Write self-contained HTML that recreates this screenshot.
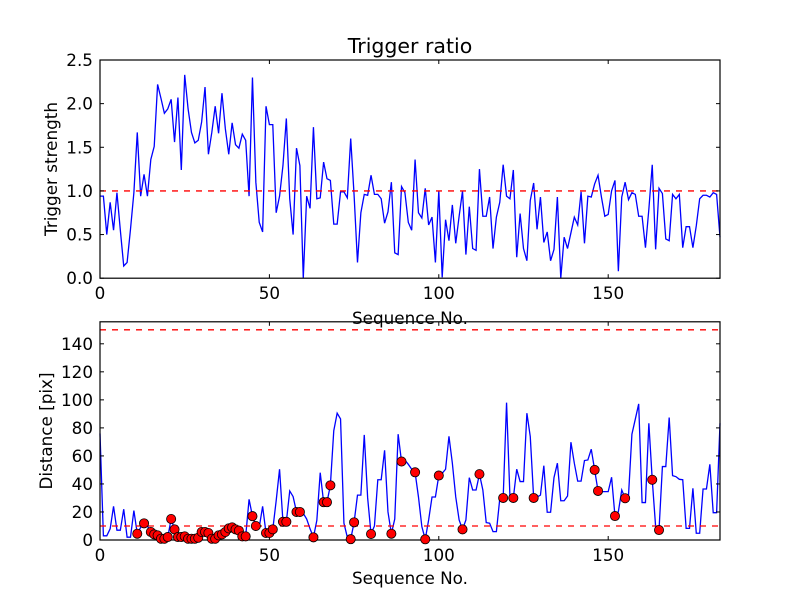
<!DOCTYPE html>
<html><head><meta charset="utf-8"><style>
html,body{margin:0;padding:0;background:#fff;}
svg text{font-family:"DejaVu Sans","Liberation Sans",sans-serif;fill:#000;}
</style></head><body>
<svg id="chart" width="800" height="600" viewBox="0 0 800 600" xmlns="http://www.w3.org/2000/svg">
<rect width="800" height="600" fill="#fff"/>
<text x="410" y="53" font-size="20.5" text-anchor="middle">Trigger ratio</text>
<g id="top"></g>
<g id="bot"></g>
<text x="410" y="324" font-size="16.8" text-anchor="middle">Sequence No.</text>
<text x="410" y="584" font-size="16.8" text-anchor="middle">Sequence No.</text>
<text transform="translate(57,169) rotate(-90)" font-size="16.8" text-anchor="middle">Trigger strength</text>
<text transform="translate(52,431) rotate(-90)" font-size="16.8" text-anchor="middle">Distance [pix]</text>
</svg>
<script>
const ratio = [0.94,0.94,0.5,0.87,0.55,0.98,0.55,0.14,0.18,0.56,0.98,1.67,0.94,1.19,0.94,1.36,1.51,2.22,2.06,1.89,1.94,2.05,1.56,2.07,1.24,2.33,1.94,1.67,1.55,1.58,1.79,2.19,1.42,1.67,1.97,1.66,2.12,1.71,1.42,1.78,1.53,1.49,1.65,1.58,0.94,2.30,
1.1,0.64,0.53,1.97,1.76,1.76,0.75,0.94,1.29,1.83,0.91,0.5,1.49,1.29,0,0.94,0.8,1.73,0.91,0.92,1.33,1.14,1.12,0.62,0.62,0.99,0.99,0.92,1.6,0.95,0.18,0.75,0.96,0.95,1.18,0.96,0.96,0.91,0.63,0.76,1.1,0.29,0.27,1.05,
0.98,0.64,0.55,1.36,0.75,0.69,1.03,0.61,0.70,0.18,1.0,0.01,0.67,0.43,0.84,0.40,0.71,1.0,0.27,0.82,0.34,0.32,1.25,0.71,0.71,0.93,0.34,0.7,0.87,1.3,0.94,0.91,1.24,0.24,0.74,0.34,0.2,0.89,1.09,0.56,0.93,0.41,0.53,0.2,0.33,0.93,0.0,0.47,
0.34,0.52,0.70,0.61,0.99,0.40,0.94,0.93,1.08,1.18,0.93,0.71,0.73,1.0,1.12,0.08,0.93,1.1,0.9,0.98,0.96,0.71,0.71,0.35,0.79,1.3,0.33,1.03,0.97,0.45,0.43,0.96,0.91,0.96,0.35,0.59,0.59,0.35,0.6,0.91,0.95,0.95,0.93,0.98,0.96,0.47];
const distance = [76,3,3,8,24,7,7,22,2,2,21,4.5,9,11.9,10,5.7,4,3.3,0.9,0.9,2.1,15,7.6,2.1,2.1,2.6,0.9,0.9,0.9,1.6,5.7,5.7,5,0.9,0.9,3.3,4,5.7,8.3,9,7.6,6.7,2.6,2.6,29,17,10,9,24,5,5,7.6,28,50.5,13,13,35,31,20,20,19,15,8,1.9,14,48,27,27,39,78,90.5,86.4,12,2,0.6,12.6,32,32,75,30,4.3,10,43,43,64,20,4.5,15,75.5,56,57,54,50.5,48.3,30.7,9.5,0.5,14.3,30.7,30.7,46,47.6,50.5,74,54.8,30.7,14.3,7.6,14.3,44.5,35.7,35.7,47,35.7,12.4,12,6,6,29.5,30,98,30.7,30,50.5,41.7,41.7,90.5,73.8,30,30.7,32,53,19.8,19.8,44.5,54.8,28,28,31.4,69.8,54.8,42,42,56.7,57.1,64.8,50,35,34.5,34.5,34.5,44.8,17.1,20.2,35.7,29.8,32,75.5,86.2,97.1,26.7,26.7,83.3,43,9.5,7.1,52.4,52.4,87.4,45.9,45.2,43.3,43,8.3,8.3,36.9,4.8,4.8,36.4,36.4,54,19.5,19.5,83.3];
const triggeredIdx = [11,13,15,16,17,18,19,20,21,22,23,24,25,26,27,28,29,30,31,32,33,34,35,36,37,38,39,40,41,42,43,45,46,49,50,51,54,55,58,59,63,66,67,68,74,75,80,86,89,93,96,100,107,112,119,122,128,146,147,152,155,163,165];
const xTicks = [0,50,100,150];
const topYTicks = [0.0,0.5,1.0,1.5,2.0,2.5];
const topYLabels = ["0.0","0.5","1.0","1.5","2.0","2.5"];
const botYTicks = [0,20,40,60,80,100,120,140];
const topThreshold = [1.0];
const botThresholds = [10,150];

const NS = "http://www.w3.org/2000/svg";
const L = 100, R = 720;
const xMax = 183;
const sx = v => L + v / xMax * (R - L);
function mk(tag, attrs, parent){ const e=document.createElementNS(NS,tag); for(const k in attrs) e.setAttribute(k,attrs[k]); parent.appendChild(e); return e; }

function panel(g, top, bot, yMax, series, yTicks, yLabels, thresholds, prefix){
  const sy = v => bot - v / yMax * (bot - top);
  let d = series.map((v,i)=>(i?'L':'M')+sx(i).toFixed(2)+' '+sy(v).toFixed(2)).join(' ');
  const ln = mk('path',{d:d,fill:'none',stroke:'#0000ff','stroke-width':1.3,'stroke-linejoin':'miter'},g);
  
  
  thresholds.forEach(t=>{
    const h = mk('line',{x1:L,x2:R,y1:sy(t),y2:sy(t),stroke:'#ff0000','stroke-width':1.3,'stroke-dasharray':'6,6'},g);
    
    
  });
  xTicks.forEach(t=>{
    const x = sx(t);
    mk('line',{x1:x,x2:x,y1:bot,y2:bot-4,stroke:'#000'},g);
    mk('line',{x1:x,x2:x,y1:top,y2:top+4,stroke:'#000'},g);
    const tx = mk('text',{x:x,y:bot+21,'font-size':16.8,'text-anchor':'middle'},g);
    tx.textContent = String(t);
    
    
  });
  yTicks.forEach((t,i)=>{
    const y = sy(t);
    mk('line',{x1:L,x2:L+4,y1:y,y2:y,stroke:'#000'},g);
    mk('line',{x1:R,x2:R-4,y1:y,y2:y,stroke:'#000'},g);
    const ty = mk('text',{x:L-7,y:y+6,'font-size':16.8,'text-anchor':'end'},g);
    ty.textContent = yLabels[i];
    
    
  });
  const fr = mk('rect',{x:L,y:top,width:R-L,height:bot-top,fill:'none',stroke:'#000','stroke-width':1.2},g);
  
  
  return sy;
}
const gTop = document.getElementById('top');
panel(gTop, 60, 278.2, 2.5, ratio, topYTicks, topYLabels, topThreshold, 'top');
const gBot = document.getElementById('bot');
const syB = panel(gBot, 321.8, 540, 155.7, distance, botYTicks, botYTicks.map(String), botThresholds, 'bottom');
triggeredIdx.forEach(i=>{
  const c = mk('circle',{cx:sx(i),cy:syB(distance[i]),r:4.6,fill:'#ff0000',stroke:'#000','stroke-width':0.8},gBot);
  
  
});
</script>
</body></html>
